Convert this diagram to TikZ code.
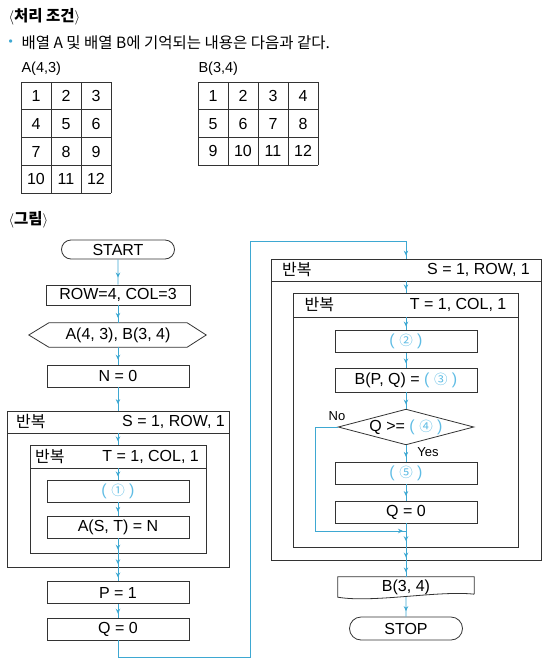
\documentclass[tikz,border=0pt]{standalone}
\usepackage{fontspec}
\setmainfont{Liberation Sans}
\newfontfamily\kr{Noto Sans CJK KR}
\usetikzlibrary{arrows.meta, positioning, shapes.misc, decorations.markings}
\definecolor{flowblue}{RGB}{62,168,210}
\definecolor{markblue}{RGB}{95,188,228}
\newcommand{\blank}[1]{\textcolor{markblue}{( {\kr\fontsize{13.5}{15}\selectfont #1} )}}

\tikzset{
  box/.style={draw=black!80, line width=0.8pt},
  proc/.style={box, minimum width=142pt, minimum height=22pt, inner sep=0pt},
  term/.style={box, rounded rectangle, minimum width=113pt, minimum height=20pt, inner sep=0pt},
  loophead/.style={box, minimum height=22pt, inner sep=0pt},
  loopbody/.style={box, inner sep=0pt, below=0pt of #1},
  flow/.style={draw=flowblue, line width=0.9pt, postaction={decorate},
    decoration={markings, mark=at position 0.72 with {\arrow[flowblue]{Stealth[length=5pt,width=4.5pt]}}}},
  flowend/.style={draw=flowblue, line width=0.9pt, postaction={decorate},
    decoration={markings, mark=at position -3pt with {\arrow[flowblue]{Stealth[length=5pt,width=4.5pt]}}}},
  cellnum/.style={font=\fontsize{16}{19}\selectfont}
}

\begin{document}
\begin{tikzpicture}[x=1pt, y=-1pt, font=\fontsize{16}{19}\selectfont]
  \useasboundingbox (0,0) rectangle (550,670);

  % conditions
  \node[anchor=west, font={\fontsize{15.5}{19}\selectfont\kr\bfseries}] (cond) at (5,17) {$\langle$처리 조건$\rangle$};
  \node[anchor=west, text=flowblue, font=\fontsize{12}{14}\selectfont] (bullet) at (5,43) {•};
  \node[anchor=west, font={\fontsize{15.5}{18}\selectfont\kr}] (intro) at (18,43) {배열 A 및 배열 B에 기억되는 내용은 다음과 같다.};
  \node[anchor=west, font=\fontsize{14.5}{17}\selectfont] (alabel) at (18,69) {A(4,3)};
  \node[anchor=west, font=\fontsize{14.5}{17}\selectfont] (blabel) at (195,69) {B(3,4)};

  % array A
  \foreach \x in {21,51,81,111} \draw[box] (\x,82) -- (\x,193);
  \foreach \y in {82,109.75,137.5,165.25,193} \draw[box] (21,\y) -- (111,\y);
  \foreach \r in {0,...,3}
    \foreach \c in {0,...,2} {
      \pgfmathtruncatemacro\v{3*\r+\c+1}
      \node[cellnum] (cellA-\r-\c) at (36+30*\c, 96+27.75*\r) {\v};
    }

  % array B
  \foreach \x in {198,228,258,288,318} \draw[box] (\x,82) -- (\x,165);
  \foreach \y in {82,109.67,137.33,165} \draw[box] (198,\y) -- (318,\y);
  \foreach \r in {0,...,2}
    \foreach \c in {0,...,3} {
      \pgfmathtruncatemacro\v{4*\r+\c+1}
      \node[cellnum] (cellB-\r-\c) at (213+30*\c, 96+27.67*\r) {\v};
    }

  \node[anchor=west, font={\fontsize{15.5}{19}\selectfont\kr\bfseries}] (fig) at (5,220) {$\langle$그림$\rangle$};

  % left column
  \node[term, minimum height=19pt] (start) at (118,249.5) {START};
  \node[proc, minimum width=144pt, minimum height=20pt] (rowcol) at (118,295) {ROW=4, COL=3};
  \node[minimum width=138pt, minimum height=24pt, inner sep=0pt] (input) at (118,335) {A(4, 3), B(3, 4)};
  \draw[box] ([xshift=-20pt]input.west) -- (input.north west) -- (input.north east)
    -- ([xshift=19pt]input.east) -- (input.south east) -- (input.south west) -- cycle;
  \node[proc] (nzero) at (118,376) {N = 0};

  \node[loophead, minimum width=222pt] (lohead) at (118,422) {};
  \node[loopbody=lohead, minimum width=222pt, minimum height=134pt] (lobody) {};
  \node[anchor=west] (lohead-l) at ([xshift=6pt]lohead.west) {\kr 반복};
  \node[anchor=east] (lohead-r) at ([xshift=-1pt]lohead.east) {S = 1, ROW, 1};

  \node[loophead, minimum width=176pt, minimum height=23pt] (lihead) at (118,456.5) {};
  \node[loopbody=lihead, minimum width=176pt, minimum height=85pt] (libody) {};
  \node[anchor=west] (lihead-l) at ([xshift=2pt]lihead.west) {\kr 반복};
  \node[anchor=east] (lihead-r) at ([xshift=-4pt]lihead.east) {T = 1, COL, 1};

  \node[proc] (fill1) at (118,491) {\blank{①}};
  \node[proc] (assign) at (118,527) {A(S, T) = N};
  \node[proc] (pone) at (118,592.5) {P = 1};
  \node[proc] (lqzero) at (118,629) {Q = 0};

  \draw[flow] (start) -- (rowcol);
  \draw[flow] (rowcol) -- (input);
  \draw[flow] (input) -- (nzero);
  \draw[flow] (nzero) -- (lohead);
  \draw[flow] (lohead.south) -- (lihead);
  \draw[flow] (lihead.south) -- (fill1);
  \draw[flow] (fill1) -- (assign);
  \draw[flow] (assign) -- (libody.south);
  \draw[flow] (libody.south) -- (lobody.south);
  \draw[flow] (lobody.south) -- (pone);
  \draw[flow] (pone) -- (lqzero);

  % right column
  \node[loophead, minimum width=270pt] (rohead) at (406,270) {};
  \node[loopbody=rohead, minimum width=270pt, minimum height=279pt] (robody) {};
  \node[anchor=west] (rohead-l) at ([xshift=8pt]rohead.west) {\kr 반복};
  \node[anchor=east] (rohead-r) at ([xshift=-8pt]rohead.east) {S = 1, ROW, 1};

  \node[loophead, minimum width=225pt, minimum height=24pt] (rihead) at (406,305) {};
  \node[loopbody=rihead, minimum width=225pt, minimum height=230pt] (ribody) {};
  \node[anchor=west] (rihead-l) at ([xshift=8pt]rihead.west) {\kr 반복};
  \node[anchor=east] (rihead-r) at ([xshift=-9pt]rihead.east) {T = 1, COL, 1};

  \node[proc] (fill2) at (406,341.5) {\blank{②}};
  \node[proc, minimum height=24pt] (bpq) at (406,380) {B(P, Q) = \blank{③}};
  \node[minimum width=135pt, minimum height=35pt, inner sep=0pt] (test) at (406,427) {Q >= \blank{④}};
  \draw[box] (test.west) -- (test.north) -- (test.east) -- (test.south) -- cycle;
  \node[font=\fontsize{13}{15}\selectfont] (no) at (337,416) {No};
  \node[font=\fontsize{13}{15}\selectfont] (yes) at (428,452) {Yes};
  \node[proc] (fill5) at (406,473) {\blank{⑤}};
  \node[proc] (rqzero) at (406,512) {Q = 0};
  \coordinate (nobend) at (315,427);
  \coordinate (merge) at (406,531);

  \node[minimum width=136pt, minimum height=20pt, inner sep=0pt] (output) at (406,587) {B(3, 4)};
  \draw[box] ([yshift=3pt]output.south east) -- (output.north east) -- (output.north west)
    -- (output.south west) .. controls +(35,6) and +(-35,-4) .. ([yshift=3pt]output.south east);
  \node[term, minimum height=23pt] (stop) at (406,628.5) {STOP};

  \coordinate (bend1) at (250,657);
  \coordinate (bend2) at (250,241);
  \draw[flowend] (lqzero) |- (bend1) -- (bend2) -| (rohead);

  \draw[flow] (rohead.south) -- (rihead);
  \draw[flow] (rihead.south) -- (fill2);
  \draw[flow] (fill2) -- (bpq);
  \draw[flow] (bpq) -- (test.north);
  \draw[flow] (test.south) -- (fill5);
  \draw[flow] (fill5) -- (rqzero);
  \draw[flow] (rqzero) -- (ribody.south);
  \draw[flowend] (test.west) -- (nobend) |- (merge);
  \draw[flow] (ribody.south) -- (robody.south);
  \draw[flow] (robody.south) -- (output);
  \draw[flow] (output) -- (stop);
\end{tikzpicture}
\end{document}
